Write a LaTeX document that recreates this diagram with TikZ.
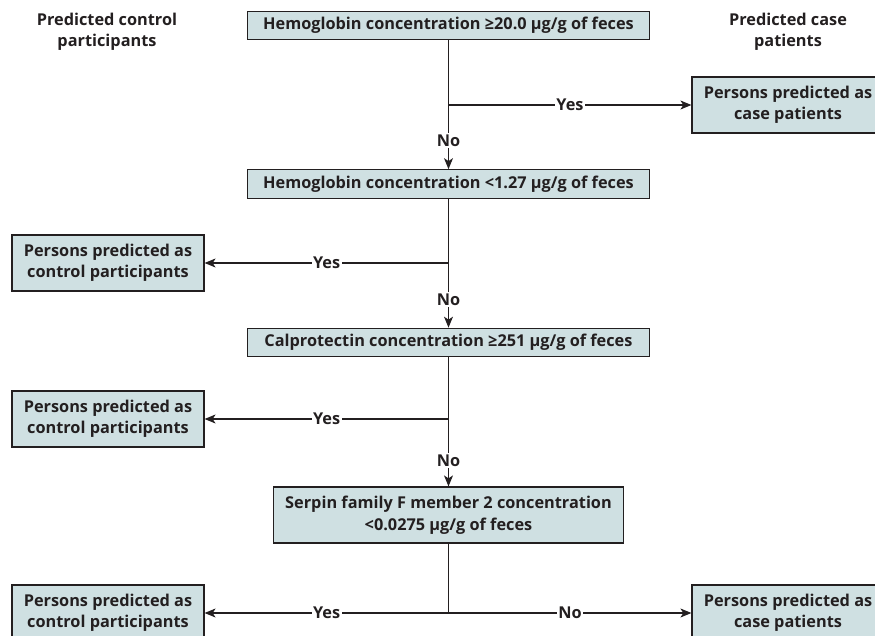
\documentclass[tikz,border=0pt]{standalone}
\usepackage{fontspec}
\setmainfont{Open Sans}
\usetikzlibrary{arrows.meta}
\definecolor{boxfill}{RGB}{207,224,226}
\definecolor{ink}{RGB}{35,31,32}
\tikzset{
  every node/.style={font=\fontsize{16.3}{21.5}\selectfont\bfseries, text=ink},
  flowbox/.style={draw=ink, line width=1.2pt, fill=boxfill, align=center, inner sep=0pt},
  widebox/.style={flowbox, minimum width=402pt, minimum height=28.5pt},
  sidebox/.style={flowbox, minimum width=192pt, minimum height=56pt},
  lbl/.style={fill=white, inner sep=1.5pt},
  conn/.style={draw=ink, line width=1.1pt},
  arr/.style={conn, -{Stealth[length=11pt, width=9pt, inset=3pt]}},
  head/.style={align=center}
}
\begin{document}
\begin{tikzpicture}[x=1pt, y=1pt]
\useasboundingbox (0,0) rectangle (875,-636);
\begin{scope}
\clip (0,0) rectangle (875,-636);
% headers
\node[head] (hl) at (107,-32) {Predicted control\\participants};
\node[head] (hr) at (788,-32) {Predicted case\\patients};
% decision boxes
\node[widebox] (b1) at (448.5,-25.5) {Hemoglobin concentration ≥20.0 µg/g of feces};
\node[widebox] (b2) at (448.5,-184) {Hemoglobin concentration <1.27 µg/g of feces};
\node[widebox] (b3) at (448.5,-342.5) {Calprotectin concentration ≥251 µg/g of feces};
\node[flowbox, minimum width=350pt, minimum height=56pt] (b4) at (448.5,-515) {Serpin family F member 2 concentration\\<0.0275 µg/g of feces};
% outcome boxes
\node[sidebox] (r1) at (788,-105) {Persons predicted as\\case patients};
\node[sidebox] (l2) at (108,-263) {Persons predicted as\\control participants};
\node[sidebox] (l3) at (108,-419) {Persons predicted as\\control participants};
\node[sidebox] (l4) at (108,-613) {Persons predicted as\\control participants};
\node[sidebox] (r4) at (788,-613) {Persons predicted as\\case patients};
% branch points
\coordinate (j1) at (448.5,-105);
\coordinate (j2) at (448.5,-263);
\coordinate (j3) at (448.5,-419);
\coordinate (j4) at (448.5,-613);
% spine
\draw[arr] (b1.south) -- (b2.north) node[lbl, pos=0.78] {No};
\draw[arr] (b2.south) -- (b3.north) node[lbl, pos=0.78] {No};
\draw[arr] (b3.south) -- (b4.north) node[lbl, pos=0.8] {No};
\draw[conn] (b4.south) -- (j4);
% branches
\draw[arr] (j1) -- (r1.west) node[lbl, pos=0.5] {Yes};
\draw[arr] (j2) -- (l2.east) node[lbl, pos=0.5] {Yes};
\draw[arr] (j3) -- (l3.east) node[lbl, pos=0.5] {Yes};
\draw[arr] (j4) -- (l4.east) node[lbl, pos=0.5] {Yes};
\draw[arr] (j4) -- (r4.west) node[lbl, pos=0.5] {No};
\end{scope}
\end{tikzpicture}
\end{document}
